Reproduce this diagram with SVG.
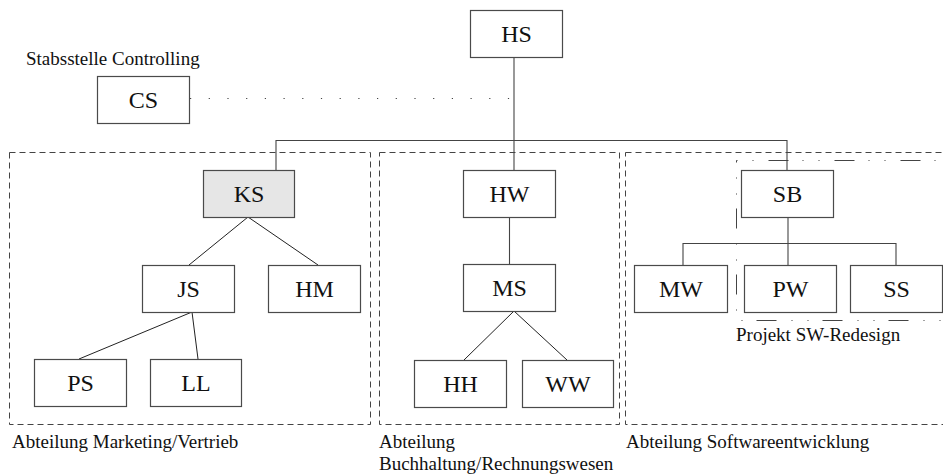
<svg xmlns="http://www.w3.org/2000/svg" width="943" height="475" viewBox="0 0 943 475">
  <style>
    .box { fill: #ffffff; stroke: #4a4a4a; stroke-width: 1.2; }
    .hl { fill: #e6e6e6; }
    text { font-family: "Liberation Serif", Tinos, "Times New Roman", Times, "DejaVu Serif", serif; fill: #111; }
    .nt { font-size: 24px; text-anchor: middle; }
    .lb { font-size: 19px; }
    .ln { fill: none; stroke: #444; stroke-width: 1.1; }
    .thin { fill: none; stroke: #222; stroke-width: 1; }
    .dept { fill: none; stroke: #444; stroke-width: 1; stroke-dasharray: 6 4; }
    .proj { fill: none; stroke: #444; stroke-width: 1; stroke-dasharray: 1 15 1 15 20 14; }
    .staff { fill: none; stroke: #444; stroke-width: 1.2; stroke-dasharray: 1.2 17.5; }
  </style>

  <!-- department frames -->
  <g id="departments">
    <rect class="dept" x="9.5" y="152.5" width="361" height="272"/>
    <rect class="dept" x="379.5" y="152.5" width="240" height="272"/>
    <rect class="dept" x="625.5" y="152.5" width="330" height="272"/>
    <rect class="proj" x="736.5" y="160.5" width="220" height="160"/>
  </g>

  <!-- labels -->
  <g id="labels">
    <text class="lb" x="26" y="65">Stabsstelle Controlling</text>
    <text class="lb" x="12" y="448">Abteilung Marketing/Vertrieb</text>
    <text class="lb" x="379" y="448">Abteilung</text>
    <text class="lb" x="379" y="470">Buchhaltung/Rechnungswesen</text>
    <text class="lb" x="626" y="448">Abteilung Softwareentwicklung</text>
    <text class="lb" x="736" y="341">Projekt SW-Redesign</text>
  </g>

  <!-- connectors -->
  <g id="connectors">
    <line class="staff" x1="190" y1="98.5" x2="513" y2="98.5"/>
    <line class="ln" x1="514" y1="57" x2="514" y2="170"/>
    <polyline class="ln" points="276,170 276,140.5 787,140.5 787,170"/>
    <line class="thin" x1="248" y1="217" x2="189" y2="265"/>
    <line class="thin" x1="248" y1="217" x2="318" y2="265"/>
    <line class="thin" x1="192" y1="312" x2="79" y2="359"/>
    <line class="thin" x1="192" y1="312" x2="198" y2="359"/>
    <line class="ln" x1="509.5" y1="217" x2="509.5" y2="264"/>
    <line class="thin" x1="514" y1="311" x2="464" y2="360"/>
    <line class="thin" x1="514" y1="311" x2="567" y2="360"/>
    <line class="ln" x1="788" y1="217" x2="788" y2="265"/>
    <polyline class="ln" points="683,265 683,243.5 896,243.5 896,265"/>
  </g>

  <!-- nodes -->
  <g id="HS"><rect class="box" x="470.5" y="10.5" width="92" height="47"/><text class="nt" x="516.5" y="42">HS</text></g>
  <g id="CS"><rect class="box" x="97.5" y="76.5" width="92" height="47"/><text class="nt" x="143.5" y="108">CS</text></g>
  <g id="KS"><rect class="box hl" x="203.5" y="170.5" width="91" height="47"/><text class="nt" x="249" y="202">KS</text></g>
  <g id="JS"><rect class="box" x="142.5" y="265.5" width="92" height="47"/><text class="nt" x="188.5" y="297">JS</text></g>
  <g id="HM"><rect class="box" x="268.5" y="265.5" width="92" height="47"/><text class="nt" x="314.5" y="297">HM</text></g>
  <g id="PS"><rect class="box" x="34.5" y="359.5" width="92" height="47"/><text class="nt" x="80.5" y="391">PS</text></g>
  <g id="LL"><rect class="box" x="150.5" y="359.5" width="91" height="47"/><text class="nt" x="196" y="391">LL</text></g>
  <g id="HW"><rect class="box" x="463.5" y="170.5" width="92" height="47"/><text class="nt" x="509.5" y="202">HW</text></g>
  <g id="MS"><rect class="box" x="463.5" y="264.5" width="92" height="47"/><text class="nt" x="509.5" y="296">MS</text></g>
  <g id="HH"><rect class="box" x="414.5" y="360.5" width="92" height="47"/><text class="nt" x="460.5" y="392">HH</text></g>
  <g id="WW"><rect class="box" x="522.5" y="360.5" width="91" height="47"/><text class="nt" x="568" y="392">WW</text></g>
  <g id="SB"><rect class="box" x="741.5" y="170.5" width="92" height="47"/><text class="nt" x="787.5" y="202">SB</text></g>
  <g id="MW"><rect class="box" x="634.5" y="265.5" width="93" height="47"/><text class="nt" x="681" y="297">MW</text></g>
  <g id="PW"><rect class="box" x="744.5" y="265.5" width="92" height="47"/><text class="nt" x="790.5" y="297">PW</text></g>
  <g id="SS"><rect class="box" x="850.5" y="265.5" width="92" height="47"/><text class="nt" x="896.5" y="297">SS</text></g>
</svg>
